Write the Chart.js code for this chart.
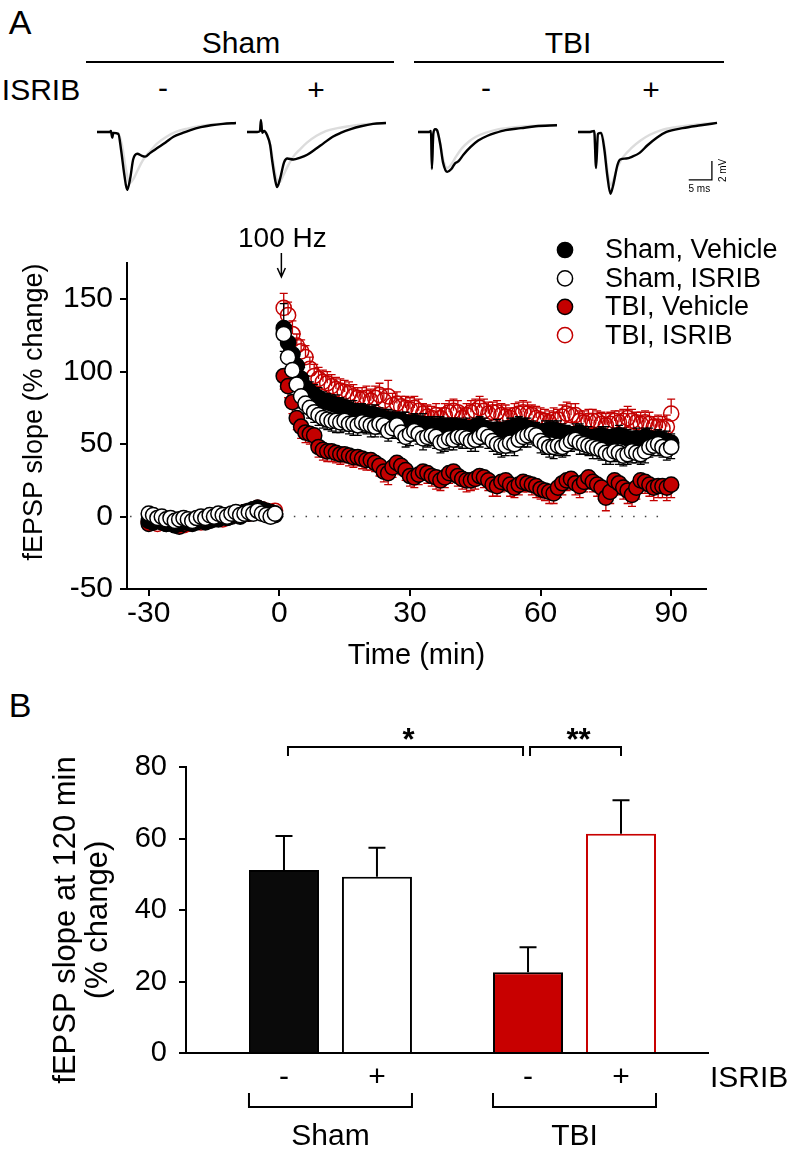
<!DOCTYPE html>
<html><head><meta charset="utf-8">
<script src="https://cdn.jsdelivr.net/npm/chart.js@4.4.1/dist/chart.umd.min.js"></script>
<style>
html,body{margin:0;padding:0;background:#fff;}
body{width:793px;height:1157px;position:relative;overflow:hidden;font-family:"Liberation Sans",Arial,Helvetica,sans-serif;color:#000;}
.t{position:absolute;white-space:nowrap;line-height:1;transform:translate(-50%,-50%);}
canvas{position:absolute;}
.hl{position:absolute;height:2px;background:#000;}
</style></head><body>
<div class="t" style="left:20px;top:22px;font-size:34px">A</div>
<div class="t" style="left:241px;top:43px;font-size:30px">Sham</div>
<div class="t" style="left:568px;top:43px;font-size:30px">TBI</div>
<div class="hl" style="left:86px;top:61px;width:308px"></div>
<div class="hl" style="left:414px;top:61px;width:310px"></div>
<div class="t" style="left:41px;top:90px;font-size:30px">ISRIB</div>
<div class="t" style="left:163px;top:88px;font-size:30px">-</div>
<div class="t" style="left:316px;top:90px;font-size:30px">+</div>
<div class="t" style="left:486px;top:88px;font-size:30px">-</div>
<div class="t" style="left:651px;top:90px;font-size:30px">+</div>
<div class="t" style="left:20px;top:705px;font-size:34px">B</div>

<canvas id="tr1" width="139" height="86" style="left:97px;top:112px"></canvas>
<canvas id="tr2" width="139" height="86" style="left:247px;top:112px"></canvas>
<canvas id="tr3" width="139" height="86" style="left:418px;top:112px"></canvas>
<canvas id="tr4" width="165" height="86" style="left:578px;top:112px"></canvas>
<canvas id="chartA" width="793" height="460" style="left:0;top:220px"></canvas>
<canvas id="chartB" width="793" height="457" style="left:0;top:700px"></canvas>

<script>
// ---------------- DATA ----------------
// Representative fEPSP traces (ms, mV); black = after 100 Hz, grey = baseline
const trShamVehPostMs = [0,2.8,3.0,3.3,3.5,4.6,5.2,5.9,6.5,7.2,7.8,8.7,9.6,10.4,11.5,13.0,14.8,16.5,18.5,20.2,22.4,24.6,27.2,30];
const trShamVehPostMv = [0,0,0.1,-0.6,-0.1,-0.2,-1.9,-4.5,-6.1,-4.8,-2.9,-2.3,-2.5,-2.6,-2.2,-1.7,-1.1,-0.5,-0.1,0.2,0.5,0.7,0.85,0.95];
const trShamVehPreMs  = [0,2.8,3.0,3.3,3.5,4.6,5.4,6.2,7.0,7.8,8.8,10,11.5,13,15,17,19.5,22,25,30];
const trShamVehPreMv  = [0,0,0.1,-0.5,-0.1,-0.2,-1.4,-3.8,-5.4,-5.0,-4.0,-2.9,-2.0,-1.2,-0.5,0,0.35,0.6,0.8,0.95];

const trShamIsrPostMs = [0,2.2,2.8,3.0,3.3,3.7,4.3,5.0,5.4,6.1,6.5,7.2,8.0,8.7,10.0,11.5,13.0,14.8,16.5,18.5,20.2,22.4,24.6,27.2,30];
const trShamIsrPostMv = [0,0,0.1,1.26,-0.1,0.1,-0.3,-1.4,-2.9,-5.1,-5.8,-4.8,-3.2,-2.8,-2.9,-2.7,-2.4,-1.8,-1.2,-0.5,-0.1,0.3,0.6,0.85,0.95];
const trShamIsrPreMs  = [0,2.2,2.8,3.0,3.3,3.7,4.3,5.0,5.6,6.3,7.0,7.8,8.8,10,11.5,13,15,17,19.5,22,25,30];
const trShamIsrPreMv  = [0,0,0.1,1.2,-0.1,0.1,-0.3,-1.3,-3.0,-4.8,-5.3,-4.6,-3.6,-2.6,-1.8,-1.1,-0.4,0.1,0.4,0.6,0.8,0.95];

const trTbiVehPostMs = [0,2.4,2.8,3.0,3.3,3.7,4.1,4.8,5.4,6.3,7.2,8.0,8.7,9.8,11.3,13.0,15.0,16.7,18.9,22.2,25.4,30];
const trTbiVehPostMv = [0,0,0.1,-3.9,-0.2,0.3,0.2,-1.3,-3.2,-4.2,-3.9,-3.3,-3.1,-2.4,-1.6,-0.9,-0.4,-0.1,0.2,0.4,0.6,0.7];
const trTbiVehPreMs  = [0,2.4,2.8,3.0,3.3,3.7,4.1,4.8,5.5,6.3,7.2,8.2,9.5,11,12.5,14.5,17,20,24,30];
const trTbiVehPreMv  = [0,0,0.1,-3.7,-0.2,0.3,0.2,-1.2,-3.0,-3.8,-3.4,-2.6,-1.7,-1.0,-0.5,-0.1,0.25,0.45,0.62,0.75];

const trTbiIsrPostMs = [0,2.6,3.5,3.9,4.3,5.0,5.7,6.3,7.0,7.6,8.5,9.1,10.4,11.7,13.3,15.0,17.0,19.1,22.6,26.5,30];
const trTbiIsrPostMv = [0,0,0.1,-3.8,-0.2,-0.1,-1.9,-4.5,-6.5,-5.6,-3.5,-2.9,-2.8,-2.6,-2.2,-1.4,-0.6,0,0.4,0.7,0.95];
const trTbiIsrPreMs  = [0,2.6,3.5,3.9,4.3,5.0,5.8,6.4,7.1,7.8,8.6,9.8,11.5,13.5,15.5,18,21,25,30];
const trTbiIsrPreMv  = [0,0,0.1,-3.6,-0.2,-0.1,-1.8,-4.2,-5.6,-4.8,-3.6,-2.6,-1.7,-0.9,-0.3,0.2,0.5,0.75,0.95];

const scaleBarMs = 5, scaleBarMv = 2;

// Time course (min)
const baselineTimes = [-30,-29,-28,-27,-26,-25,-24,-23,-22,-21,-20,-19,-18,-17,-16,-15,-14,-13,-12,-11,-10,-9,-8,-7,-6,-5,-4,-3,-2,-1];
const postTimes = [1,2,3,4,5,6,7,8,9,10,11,12,13,14,15,16,17,18,19,20,21,22,23,24,25,26,27,28,29,30,
  31,32,33,34,35,36,37,38,39,40,41,42,43,44,45,46,47,48,49,50,51,52,53,54,55,56,57,58,59,60,
  61,62,63,64,65,66,67,68,69,70,71,72,73,74,75,76,77,78,79,80,81,82,83,84,85,86,87,88,89,90];
const timeTicks = [-30,0,30,60,90];
const slopeTicks = [-50,0,50,100,150];

const shamVehBase = [-3,-4,-2,-3,-5,-4,-6,-5,-3,-4,-5,-3,-2,-4,-3,-1,-2,0,-1,1,2,0,3,2,5,6,4,3,2,1];
const shamVehPost = [130,120,112,104,95,89,86,84,82,80, 79,78,77,76,75,74,73,72,72,71,
  70,70,69,68,67,67,66,66,65,64, 65,64,64,63,63,62,63,62,62,61, 62,61,61,60,62,63,61,60,59,60,
  59,60,61,62,63,62,61,60,59,58, 59,60,60,59,58,57,56,57,58,56, 55,54,55,56,55,54,55,56,55,54,
  53,54,53,55,54,53,54,53,52,51];
const shamVehErrBase = [3,2,3,3,2,3,2,3,3,2,3,3,2,3,2,3,3,2,3,2,3,3,2,3,3,2,3,2,3,3];
const shamVehErrPost = [17,12,10,9,8,8,7,7,7,6, 6,6,7,6,6,6,7,6,6,6, 6,7,6,6,7,6,6,6,7,6,
  6,6,7,6,6,7,6,6,6,7, 6,6,7,6,6,6,7,6,6,7, 6,6,7,6,6,6,7,6,6,6, 7,6,6,7,6,6,6,7,6,6,
  7,6,6,6,7,6,6,7,6,6, 6,7,6,6,7,6,6,6,7,6];

const shamIsrBase = [2,1,-1,0,-2,-1,-3,-2,-1,-2,-3,-1,0,-1,1,0,2,1,0,2,3,1,2,3,2,4,2,1,0,2];
const shamIsrPost = [126,110,101,91,83,78,75,72,70,68, 67,66,66,65,66,64,64,63,65,64,
  63,62,64,63,59,61,63,58,55,57, 59,57,54,55,56,55,51,52,54,53, 55,55,54,52,53,55,57,55,52,50,
  49,49,51,50,53,55,56,57,56,52, 50,48,48,49,48,50,52,53,51,50, 49,48,47,46,44,43,45,44,42,43,
  45,44,43,45,48,49,50,48,46,48];
const shamIsrErrBase = [3,3,2,3,2,3,3,2,3,3,2,3,2,3,3,2,3,3,2,3,2,3,3,2,3,3,2,3,3,2];
const shamIsrErrPost = [12,10,9,8,8,7,7,7,7,7, 7,7,8,7,7,7,8,7,7,7, 8,7,7,8,7,7,8,7,7,8,
  7,7,8,7,7,8,7,7,8,7, 7,8,7,7,8,7,7,8,7,7, 8,7,7,8,7,7,8,7,7,8, 7,7,8,7,7,8,7,7,8,7,
  7,8,7,7,8,7,7,8,7,7, 8,7,7,8,7,7,8,7,7,8];

const tbiVehBase = [-5,-4,-3,-4,-5,-3,-6,-7,-5,-4,-3,-4,-2,-3,-1,-2,-1,0,1,0,2,1,3,4,5,6,5,4,3,2];
const tbiVehPost = [97,90,79,68,62,58,57,56,48,46, 45,45,44,43,43,42,41,41,40,39,
  39,37,35,31,30,34,37,35,32,28, 27,29,31,30,28,27,25,27,30,31, 28,26,25,25,26,28,27,25,22,21,
  24,25,22,20,22,24,23,22,21,19, 18,17,16,20,23,25,26,23,21,24, 27,24,22,20,13,17,25,23,20,18,
  15,20,25,24,22,20,21,21,20,22];
const tbiVehErrBase = [3,2,3,3,2,3,3,2,3,2,3,3,2,3,3,2,3,2,3,3,2,3,3,2,3,3,2,3,2,3];
const tbiVehErrPost = [9,8,8,8,8,7,7,7,7,7, 7,7,7,7,6,7,7,6,7,7, 7,6,7,7,8,7,7,6,7,7,
  7,7,6,7,7,8,7,7,7,6, 7,7,8,7,7,6,7,7,8,7, 7,7,8,7,7,7,6,7,8,7, 7,8,7,7,8,7,7,8,8,7,
  8,7,8,8,9,8,7,8,8,9, 8,8,7,8,8,9,8,8,9,9];

const tbiIsrBase = [-4,-3,-5,-3,-2,-4,-5,-4,-6,-5,-3,-2,-4,-3,-2,-1,0,-2,0,1,2,1,3,2,4,6,5,4,3,4];
const tbiIsrPost = [144,139,126,118,114,110,102,97,95,93, 92,90,88,87,86,85,83,82,81,82,
  80,82,84,80,83,77,78,76,75,74, 75,73,71,69,68,70,68,70,72,73, 72,68,70,72,73,75,73,71,72,72,
  70,69,68,70,71,72,71,70,68,67, 66,65,67,67,69,71,70,70,66,65, 66,66,66,64,63,64,66,65,66,68,
  66,65,64,65,64,62,62,61,62,71];
const tbiIsrErrBase = [3,3,2,3,3,2,3,3,2,3,3,2,3,3,2,3,3,2,3,3,2,3,3,2,3,3,2,3,3,3];
const tbiIsrErrPost = [10,9,9,8,8,8,8,8,8,8, 8,8,8,8,8,8,8,7,8,8, 8,8,8,8,11,8,8,7,8,8,
  8,8,7,8,8,8,7,8,8,8, 8,7,8,8,8,8,8,8,7,8, 8,8,7,8,8,8,8,7,8,8, 8,8,8,7,8,8,8,8,7,8,
  8,8,7,8,8,8,7,8,8,8, 8,7,8,8,8,7,8,8,8,10];

// Panel B
const groups = ['Sham','TBI'];
const vehicleMean = [51.2, 22.6];
const vehicleSem  = [9.5, 7.0];
const isribMean   = [49.3, 61.3];
const isribSem    = [8.1, 9.4];
const barTicks = [0,20,40,60,80];

// ---------------- RENDER ----------------
const FAM = '"Liberation Sans", Arial, Helvetica, sans-serif';
Chart.defaults.font.family = FAM;
Chart.defaults.color = '#000';
const RED = '#c40000';

function pts(xs, ys){ return xs.map((x,i)=>({x:x, y:ys[i]})); }

// rotated y-axis title drawn at a given centre
const yTitlePlugin = {
  id:'ytitle',
  afterDraw(chart, args, opts){
    if (!opts || !opts.lines) return;
    const ctx = chart.ctx;
    ctx.save();
    ctx.fillStyle = '#000'; ctx.font = opts.size + 'px ' + FAM;
    ctx.textAlign = 'center'; ctx.textBaseline = 'middle';
    opts.lines.forEach((txt, i) => {
      ctx.save();
      ctx.translate(opts.x[i], opts.cy);
      ctx.rotate(-Math.PI/2);
      ctx.fillText(txt, 0, 0);
      ctx.restore();
    });
    ctx.restore();
  }
};

const scaleBarPlugin = {
  id:'scalebar',
  afterDraw(chart){
    const sx = chart.scales.x, sy = chart.scales.y, ctx = chart.ctx;
    const cornerMs = 28.9, cornerMv = -5.05;
    const x1 = sx.getPixelForValue(cornerMs), x0 = sx.getPixelForValue(cornerMs - scaleBarMs);
    const y0 = sy.getPixelForValue(cornerMv), y1 = sy.getPixelForValue(cornerMv + scaleBarMv);
    ctx.save();
    ctx.strokeStyle = '#000'; ctx.lineWidth = 1.3;
    ctx.beginPath(); ctx.moveTo(x0, y0); ctx.lineTo(x1, y0); ctx.lineTo(x1, y1); ctx.stroke();
    ctx.fillStyle = '#000'; ctx.font = '10px ' + FAM;
    ctx.textAlign = 'center'; ctx.textBaseline = 'middle';
    ctx.fillText(scaleBarMs + ' ms', (x0 + x1)/2 - 1, y0 + 9);
    ctx.translate(x1 + 11, (y0 + y1)/2);
    ctx.rotate(-Math.PI/2);
    ctx.fillText(scaleBarMv + ' mV', 0, 0);
    ctx.restore();
  }
};

function traceChart(id, postMs, postMv, preMs, preMv, padRight, extra){
  new Chart(document.getElementById(id), {
    type:'line',
    data:{datasets:[
      {data:pts(postMs, postMv), borderColor:'#000', borderWidth:2.4, pointRadius:0, cubicInterpolationMode:'monotone', clip:false},
      {data:pts(preMs, preMv), borderColor:'#dcdcdc', borderWidth:2.4, pointRadius:0, cubicInterpolationMode:'monotone', clip:false}
    ]},
    options:{responsive:false, animation:false, events:[],
      layout:{padding:{left:0,top:0,bottom:0,right:padRight}},
      plugins:{legend:{display:false}, tooltip:{enabled:false}},
      scales:{x:{type:'linear', display:false, min:0, max:30}, y:{type:'linear', display:false, min:-6.95, max:2.1}}},
    plugins: extra
  });
}
traceChart('tr1', trShamVehPostMs, trShamVehPostMv, trShamVehPreMs, trShamVehPreMv, 0, []);
traceChart('tr2', trShamIsrPostMs, trShamIsrPostMv, trShamIsrPreMs, trShamIsrPreMv, 0, []);
traceChart('tr3', trTbiVehPostMs, trTbiVehPostMv, trTbiVehPreMs, trTbiVehPreMv, 0, []);
traceChart('tr4', trTbiIsrPostMs, trTbiIsrPostMv, trTbiIsrPreMs, trTbiIsrPreMv, 26, [scaleBarPlugin]);

// ----- Panel A time course -----
const allTimes = baselineTimes.concat(postTimes);
const errPlugin = {
  id:'errbars',
  beforeDatasetDraw(chart, args){
    const ds = chart.data.datasets[args.index];
    if (!ds.errors) return;
    const ctx = chart.ctx, sy = chart.scales.y;
    ctx.save();
    ctx.strokeStyle = ds.errColor; ctx.lineWidth = 1.3;
    args.meta.data.forEach((p, i) => {
      const v = ds.data[i].y + ds.errDir * ds.errors[i];
      const py = sy.getPixelForValue(v);
      ctx.beginPath();
      ctx.moveTo(p.x, p.y); ctx.lineTo(p.x, py);
      ctx.moveTo(p.x - 4, py); ctx.lineTo(p.x + 4, py);
      ctx.stroke();
    });
    ctx.restore();
  }
};
const aDecor = {
  id:'adecor',
  beforeDatasetsDraw(chart){
    const ctx = chart.ctx, sx = chart.scales.x, sy = chart.scales.y;
    ctx.save();
    ctx.strokeStyle = '#444'; ctx.lineWidth = 1.5; ctx.setLineDash([1.5, 10.2]);
    const y0 = sy.getPixelForValue(0);
    ctx.beginPath(); ctx.moveTo(sx.getPixelForValue(-34.3), y0); ctx.lineTo(sx.getPixelForValue(88.5), y0); ctx.stroke();
    ctx.restore();
  },
  afterDraw(chart){
    const ctx = chart.ctx, sx = chart.scales.x;
    ctx.save();
    const ax = sx.getPixelForValue(0) + 2;
    ctx.fillStyle = '#000'; ctx.strokeStyle = '#000';
    ctx.font = '28px ' + FAM; ctx.textAlign = 'center'; ctx.textBaseline = 'middle';
    ctx.fillText('100 Hz', ax + 1, 19);
    ctx.lineWidth = 1.5;
    ctx.beginPath(); ctx.moveTo(ax, 33); ctx.lineTo(ax, 57);
    ctx.moveTo(ax - 4, 48); ctx.lineTo(ax, 57); ctx.lineTo(ax + 4, 48); ctx.stroke();
    ctx.font = '27px ' + FAM; ctx.textAlign = 'left';
    chart.data.datasets.forEach((ds, i) => {
      const ly = 30 + i * 28.4;
      ctx.beginPath(); ctx.arc(565, ly, 7.6, 0, Math.PI*2);
      ctx.fillStyle = ds.legendFill; ctx.fill();
      ctx.lineWidth = 1.5; ctx.strokeStyle = ds.pointBorderColor; ctx.stroke();
      ctx.fillStyle = '#000';
      ctx.fillText(ds.label, 605, ly + 1);
    });
    ctx.restore();
  }
};
function series(label, base, post, errB, errP, fill, border, legendFill, dir, errColor, order){
  return {label:label, data:pts(allTimes, base.concat(post)), errors:errB.concat(errP), errDir:dir, errColor:errColor,
    showLine:false, pointRadius:7.6, pointBorderWidth:1.5, pointBackgroundColor:fill, pointBorderColor:border,
    legendFill:legendFill, order:order, clip:false};
}
new Chart(document.getElementById('chartA'), {
  type:'scatter',
  data:{datasets:[
    series('Sham, Vehicle', shamVehBase, shamVehPost, shamVehErrBase, shamVehErrPost, '#000', '#000', '#000', 1, '#000', 1),
    series('Sham, ISRIB', shamIsrBase, shamIsrPost, shamIsrErrBase, shamIsrErrPost, '#fff', '#000', '#fff', -1, '#000', 0),
    series('TBI, Vehicle', tbiVehBase, tbiVehPost, tbiVehErrBase, tbiVehErrPost, RED, '#000', RED, -1, RED, 2),
    series('TBI, ISRIB', tbiIsrBase, tbiIsrPost, tbiIsrErrBase, tbiIsrErrPost, 'rgba(255,255,255,0)', RED, '#fff', 1, RED, 3)
  ]},
  options:{responsive:false, animation:false, events:[],
    layout:{padding:{left:0, top:43, right:87, bottom:0}},
    plugins:{legend:{display:false}, tooltip:{enabled:false},
      ytitle:{lines:['fEPSP slope (% change)'], x:[35], cy:192, size:27}},
    scales:{
      x:{type:'linear', min:-35, max:98,
        afterBuildTicks:(s)=>{ s.ticks = timeTicks.map(v=>({value:v})); },
        afterFit:(s)=>{ s.height = 91; },
        grid:{display:true, drawOnChartArea:false, drawTicks:true, tickLength:7, color:'#000', lineWidth:2},
        border:{display:true, color:'#000', width:2},
        ticks:{font:{size:30}, color:'#000', padding:0, maxRotation:0, autoSkip:false},
        title:{display:true, text:'Time (min)', font:{size:29}, color:'#000', padding:{top:0,bottom:7}}},
      y:{type:'linear', min:-50, max:175,
        afterBuildTicks:(s)=>{ s.ticks = slopeTicks.map(v=>({value:v})); },
        afterFit:(s)=>{ s.width = 127; },
        grid:{display:true, drawOnChartArea:false, drawTicks:true, tickLength:7, color:'#000', lineWidth:2},
        border:{display:true, color:'#000', width:2},
        ticks:{font:{size:30}, color:'#000', padding:7},
        title:{display:false}}
    }},
  plugins:[errPlugin, aDecor, yTitlePlugin]
});

// ----- Panel B bars -----
const bDecor = {
  id:'bdecor',
  afterDatasetsDraw(chart){
    const ctx = chart.ctx, sy = chart.scales.y;
    ctx.save(); ctx.strokeStyle = '#000'; ctx.lineWidth = 2;
    chart.data.datasets.forEach((ds, di) => {
      chart.getDatasetMeta(di).data.forEach((bar, i) => {
        const top = sy.getPixelForValue(ds.data[i].y + ds.errors[i]);
        ctx.beginPath(); ctx.moveTo(bar.x, bar.y); ctx.lineTo(bar.x, top);
        ctx.moveTo(bar.x - 8.5, top); ctx.lineTo(bar.x + 8.5, top); ctx.stroke();
      });
    });
    ctx.restore();
  },
  afterDraw(chart){
    const ctx = chart.ctx;
    const v = chart.getDatasetMeta(0).data, s = chart.getDatasetMeta(1).data;
    const bars = [v[0], s[0], v[1], s[1]];
    const signs = ['-','+','-','+'];
    ctx.save(); ctx.fillStyle = '#000'; ctx.strokeStyle = '#000'; ctx.lineWidth = 2;
    ctx.font = '30px ' + FAM; ctx.textAlign = 'center'; ctx.textBaseline = 'middle';
    bars.forEach((b, i) => ctx.fillText(signs[i], b.x, 378));
    ctx.textAlign = 'left'; ctx.fillText('ISRIB', chart.chartArea.right + 2, 379);
    ctx.textAlign = 'center';
    [[bars[0], bars[1]], [bars[2], bars[3]]].forEach((pair, g) => {
      const l = pair[0].x - pair[0].width/2, r = pair[1].x + pair[1].width/2;
      ctx.beginPath(); ctx.moveTo(l, 393); ctx.lineTo(l, 407); ctx.lineTo(r, 407); ctx.lineTo(r, 393); ctx.stroke();
      ctx.fillText(groups[g], (l + r)/2, 437);
    });
    const sig = [[bars[0].x + 4, bars[2].x - 5, '*'], [bars[2].x + 2, bars[3].x, '**']];
    ctx.font = 'bold 31px ' + FAM; ctx.textBaseline = 'alphabetic';
    sig.forEach(([l, r, txt]) => {
      ctx.beginPath(); ctx.moveTo(l, 56); ctx.lineTo(l, 47); ctx.lineTo(r, 47); ctx.lineTo(r, 56); ctx.stroke();
      ctx.fillText(txt, (l + r)/2 + 3, 50);
    });
    ctx.restore();
  }
};
new Chart(document.getElementById('chartB'), {
  type:'bar',
  data:{datasets:[
    {label:'Vehicle', data:groups.map((g,i)=>({x:i, y:vehicleMean[i]})), errors:vehicleSem,
     backgroundColor:['#0a0a0a', '#c80000'], borderColor:'#000', borderWidth:2, borderSkipped:'start',
     categoryPercentage:0.762, barPercentage:0.753},
    {label:'ISRIB', data:groups.map((g,i)=>({x:i, y:isribMean[i]})), errors:isribSem,
     backgroundColor:'#fff', borderColor:['#000', '#c80000'], borderWidth:2, borderSkipped:'start',
     categoryPercentage:0.762, barPercentage:0.753}
  ]},
  options:{responsive:false, animation:false, events:[],
    layout:{padding:{left:0, top:67, right:85, bottom:0}},
    plugins:{legend:{display:false}, tooltip:{enabled:false},
      ytitle:{lines:['fEPSP slope at 120 min','(% change)'], x:[66, 98], cy:220, size:31}},
    scales:{
      x:{type:'linear', min:-0.592, max:1.547, offset:false, z:1,
        afterBuildTicks:(s)=>{ s.ticks = groups.map((g,i)=>({value:i})); },
        afterFit:(s)=>{ s.height = 104; },
        grid:{display:false}, border:{display:true, color:'#000', width:2},
        ticks:{display:false}},
      y:{type:'linear', min:0, max:80,
        afterBuildTicks:(s)=>{ s.ticks = barTicks.map(v=>({value:v})); },
        afterFit:(s)=>{ s.width = 186; },
        grid:{display:true, drawOnChartArea:false, drawTicks:true, tickLength:7, color:'#000', lineWidth:2},
        border:{display:true, color:'#000', width:2},
        ticks:{font:{size:29}, color:'#000', padding:12},
        title:{display:false}}
    }},
  plugins:[bDecor, yTitlePlugin]
});
</script>
</body></html>
